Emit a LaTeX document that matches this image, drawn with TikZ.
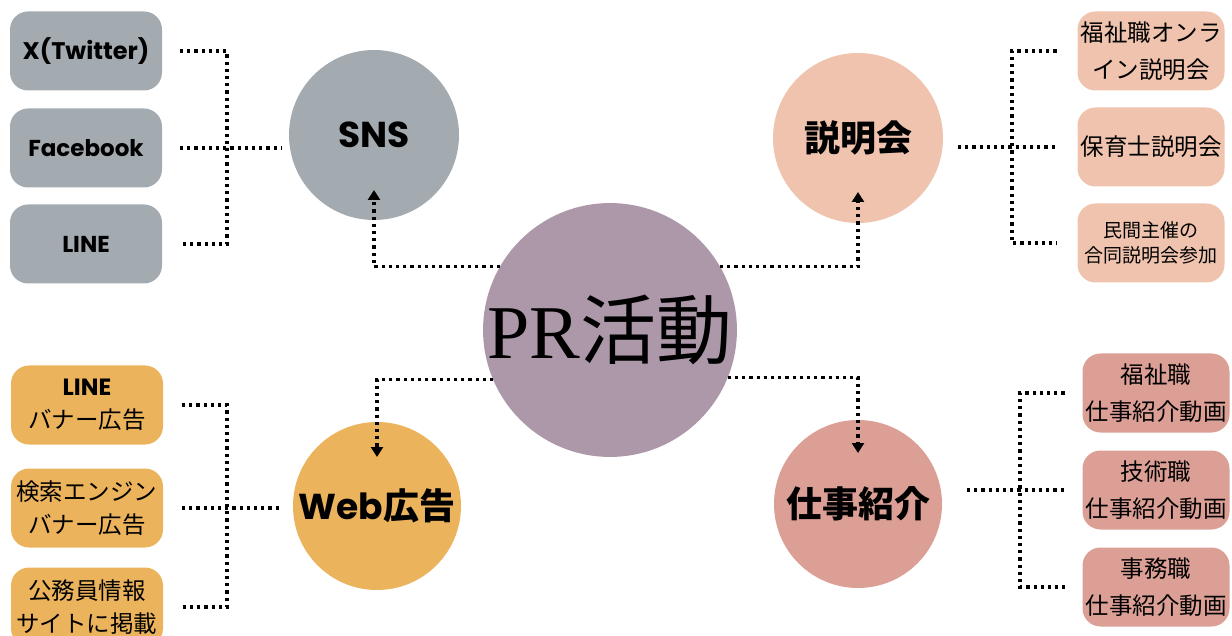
\documentclass[tikz,border=0pt]{standalone}
\usepackage{fontspec}
\setmainfont{Poppins}
\newfontfamily\jp{Noto Sans CJK JP}
\newfontfamily\prfont{Liberation Serif}
\usetikzlibrary{arrows.meta}
\definecolor{snsgray}{HTML}{A3AAB0}
\definecolor{setpeach}{HTML}{EFC3AE}
\definecolor{prpurple}{HTML}{AD98AA}
\definecolor{weborange}{HTML}{ECB35D}
\definecolor{jobrose}{HTML}{DC9F95}
\newcommand{\boxfont}{\fontsize{11.75}{18.5}\selectfont}
\begin{document}
\begin{tikzpicture}[x=0.5pt,y=-0.5pt,inner sep=0pt,outer sep=0pt,
topicball/.style={circle,minimum size=85pt,font=\bfseries\fontsize{18}{20}\selectfont},
itembox/.style={rectangle,rounded corners=9pt,minimum width=76pt,minimum height=39.5pt,align=center,font=\boxfont},
dotline/.style={line width=1.6pt,dotted},
dotarrow/.style={dotline,-{Triangle[width=6pt,length=5pt]}}]
\useasboundingbox (0,0) rectangle (1232,636);
% topics
\draw (610,330) node[topicball,fill=prpurple,minimum size=126pt,font=\fontsize{38}{40}\selectfont] (pr) {\prfont PR\jp 活動};
\draw (374,135) node[topicball,fill=snsgray] (sns) {SNS};
\draw (858,138) node[topicball,fill=setpeach] (setsu) {\jp 説明会};
\draw (377,506) node[topicball,fill=weborange,minimum size=84pt] (web) {Web\jp 広告};
\draw (858,504) node[topicball,fill=jobrose,minimum size=84pt] (job) {\jp 仕事紹介};
% SNS items
\draw (86,51) node[itembox,fill=snsgray,font=\bfseries\fontsize{12}{14}\selectfont] (tw) {X(Twitter)};
\draw (86,148) node[itembox,fill=snsgray,font=\bfseries\fontsize{11.5}{14}\selectfont] (fb) {Facebook};
\draw (86,244) node[itembox,fill=snsgray,font=\bfseries\fontsize{11.5}{14}\selectfont] (ln) {LINE};
% setsumeikai items
\draw (1151,51) node[itembox,fill=setpeach,minimum width=73.5pt] (online) {\jp 福祉職オンラ\\\jp イン説明会};
\draw (1151,147) node[itembox,fill=setpeach,minimum width=73.5pt] (hoiku) {\jp 保育士説明会};
\draw (1151,243) node[itembox,fill=setpeach,minimum width=73.5pt,font=\fontsize{9.5}{12.5}\selectfont] (godo) {\jp 民間主催の\\\jp 合同説明会参加};
% web items
\draw (87,405) node[itembox,fill=weborange,font=\fontsize{11.75}{16.5}\selectfont] (lnad) {\bfseries LINE\\\jp バナー広告};
\draw (87,508) node[itembox,fill=weborange,font=\fontsize{11.75}{16.5}\selectfont] (search) {\jp 検索エンジン\\\jp バナー広告};
\draw (87,607) node[itembox,fill=weborange,font=\fontsize{11.75}{16.5}\selectfont] (koumu) {\jp 公務員情報\\\jp サイトに掲載};
% job items
\draw (1156,393) node[itembox,fill=jobrose,minimum width=73.5pt] (fukushi) {\jp 福祉職\\\jp 仕事紹介動画};
\draw (1156,490) node[itembox,fill=jobrose,minimum width=73.5pt] (gijutsu) {\jp 技術職\\\jp 仕事紹介動画};
\draw (1156,587) node[itembox,fill=jobrose,minimum width=73.5pt] (jimu) {\jp 事務職\\\jp 仕事紹介動画};
% joints
\coordinate (snsjoin) at (227,148);
\coordinate (setjoin) at (1012,147);
\coordinate (webjoin) at (227,508);
\coordinate (jobjoin) at (1020,490);
% branches
\draw[dotline,shorten <=9pt,shorten >=9pt] (tw.east) -| (snsjoin) |- (ln.east);
\draw[dotline,shorten <=9pt,shorten >=3.5pt] (fb.east) -- (fb.east -| sns.west);
\draw[dotline,shorten <=10.5pt,shorten >=10.5pt] (online.west) -| (setjoin) |- (godo.west);
\draw[dotline,shorten <=7.5pt,shorten >=10.5pt] (hoiku.west -| setsu.east) -- (hoiku.west);
\draw[dotline,shorten <=9.5pt,shorten >=9.5pt] (lnad.east) -| (webjoin) |- (koumu.east);
\draw[dotline,shorten <=9.5pt,shorten >=6.5pt] (search.east) -- (search.east -| web.west);
\draw[dotline,shorten <=9pt,shorten >=9pt] (fukushi.west) -| (jobjoin) |- (jimu.west);
\draw[dotline,shorten <=12.5pt,shorten >=9pt] (gijutsu.west -| job.east) -- (gijutsu.west);
% from the center
\draw[dotarrow] (pr.150) -| ([yshift=15pt]sns.south);
\draw[dotarrow] (pr.30) -| ([yshift=15.5pt]setsu.south);
\draw[dotarrow] (pr.-157.6) -| ([yshift=-17.5pt]web.north);
\draw[dotarrow] (pr.-22.4) -| ([yshift=-16.5pt]job.north);
\end{tikzpicture}
\end{document}
